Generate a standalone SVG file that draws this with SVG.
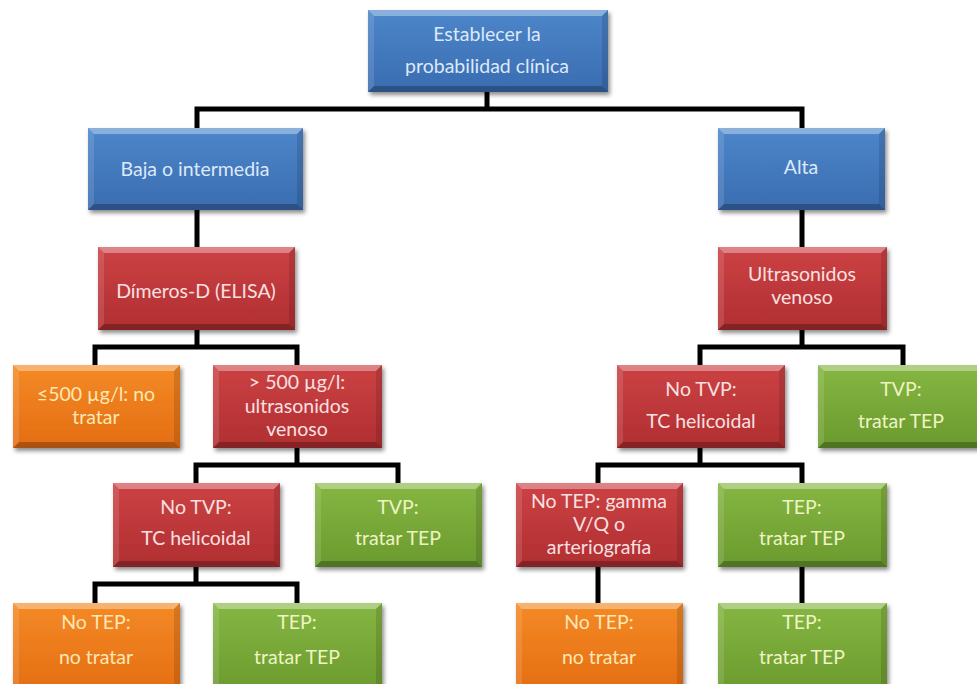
<svg xmlns="http://www.w3.org/2000/svg" width="977" height="684" viewBox="0 0 977 684">
<defs>
<filter id="sh" x="-10%" y="-10%" width="130%" height="140%"><feDropShadow dx="2" dy="3" stdDeviation="2" flood-color="#000" flood-opacity="0.45"/></filter>
<linearGradient id="gB" x1="0" y1="0" x2="0" y2="1"><stop offset="0" stop-color="#4d86ca"/><stop offset="1" stop-color="#3a6cb0"/></linearGradient>
<linearGradient id="gR" x1="0" y1="0" x2="0" y2="1"><stop offset="0" stop-color="#cc4244"/><stop offset="1" stop-color="#b02e31"/></linearGradient>
<linearGradient id="gO" x1="0" y1="0" x2="0" y2="1"><stop offset="0" stop-color="#f48a26"/><stop offset="1" stop-color="#e46d12"/></linearGradient>
<linearGradient id="gG" x1="0" y1="0" x2="0" y2="1"><stop offset="0" stop-color="#86b642"/><stop offset="1" stop-color="#6a9a2e"/></linearGradient>
</defs>
<style>
.t{font-family:Lato,"Open Sans","Liberation Sans",sans-serif;font-size:19.5px;text-anchor:middle}
.tb{fill:#dce9f8}.tr{fill:#f9e0e0}.to{fill:#fde7b4}.tg{fill:#eef4c4}
.bt{fill:rgba(255,255,255,0.35)}.bb{fill:rgba(0,0,0,0.25)}.bl{fill:rgba(255,255,255,0.12)}.br{fill:rgba(0,0,0,0.12)}
.c{fill:none;stroke:#000;stroke-width:5;stroke-linejoin:miter;stroke-linecap:square}
</style>
<rect width="977" height="684" fill="#fff"/>
<g id="connectors">
<path class="c" d="M487,92V109M197,128V109H802V128"/>
<path class="c" d="M197,210V247M802,210V247"/>
<path class="c" d="M197,330V347M95,365V347H297V365"/>
<path class="c" d="M297,448V465M196,483V465H398V483"/>
<path class="c" d="M196,567V584M95,603V584H297V603"/>
<path class="c" d="M802,330V347M700,365V347H903V365"/>
<path class="c" d="M700,448V465M598,483V465H802V483"/>
<path class="c" d="M598,567V603M802,567V603"/>
</g>
<g id="n1" transform="translate(368,10)"><rect width="240" height="82" fill="url(#gB)" filter="url(#sh)"/><polygon class="bt" points="0,0 240,0 234,6 6,6"/><polygon class="bb" points="0,82 240,82 234,76 6,76"/><polygon class="bl" points="0,0 6,6 6,76 0,82"/><polygon class="br" points="240,0 234,6 234,76 240,82"/><text class="t tb" x="119" y="31">Establecer la</text><text class="t tb" x="119" y="63">probabilidad clínica</text></g>
<g id="n2" transform="translate(88,128)"><rect width="215" height="82" fill="url(#gB)" filter="url(#sh)"/><polygon class="bt" points="0,0 215,0 209,6 6,6"/><polygon class="bb" points="0,82 215,82 209,76 6,76"/><polygon class="bl" points="0,0 6,6 6,76 0,82"/><polygon class="br" points="215,0 209,6 209,76 215,82"/><text class="t tb" x="107" y="48">Baja o intermedia</text></g>
<g id="n3" transform="translate(718,128)"><rect width="167" height="82" fill="url(#gB)" filter="url(#sh)"/><polygon class="bt" points="0,0 167,0 161,6 6,6"/><polygon class="bb" points="0,82 167,82 161,76 6,76"/><polygon class="bl" points="0,0 6,6 6,76 0,82"/><polygon class="br" points="167,0 161,6 161,76 167,82"/><text class="t tb" x="83" y="46">Alta</text></g>
<g id="n4" transform="translate(98,247)"><rect width="197" height="83" fill="url(#gR)" filter="url(#sh)"/><polygon class="bt" points="0,0 197,0 191,6 6,6"/><polygon class="bb" points="0,83 197,83 191,77 6,77"/><polygon class="bl" points="0,0 6,6 6,77 0,83"/><polygon class="br" points="197,0 191,6 191,77 197,83"/><text class="t tr" x="98" y="51">Dímeros-D (ELISA)</text></g>
<g id="n5" transform="translate(718,247)"><rect width="169" height="83" fill="url(#gR)" filter="url(#sh)"/><polygon class="bt" points="0,0 169,0 163,6 6,6"/><polygon class="bb" points="0,83 169,83 163,77 6,77"/><polygon class="bl" points="0,0 6,6 6,77 0,83"/><polygon class="br" points="169,0 163,6 163,77 169,83"/><text class="t tr" x="84" y="34">Ultrasonidos</text><text class="t tr" x="84" y="57">venoso</text></g>
<g id="n6" transform="translate(13,365)"><rect width="167" height="83" fill="url(#gO)" filter="url(#sh)"/><polygon class="bt" points="0,0 167,0 161,6 6,6"/><polygon class="bb" points="0,83 167,83 161,77 6,77"/><polygon class="bl" points="0,0 6,6 6,77 0,83"/><polygon class="br" points="167,0 161,6 161,77 167,83"/><text class="t to" x="83" y="36">≤500 µg/l: no</text><text class="t to" x="83" y="59">tratar</text></g>
<g id="n7" transform="translate(213,365)"><rect width="169" height="83" fill="url(#gR)" filter="url(#sh)"/><polygon class="bt" points="0,0 169,0 163,6 6,6"/><polygon class="bb" points="0,83 169,83 163,77 6,77"/><polygon class="bl" points="0,0 6,6 6,77 0,83"/><polygon class="br" points="169,0 163,6 163,77 169,83"/><text class="t tr" x="84" y="24">&gt; 500 µg/l:</text><text class="t tr" x="84" y="48">ultrasonidos</text><text class="t tr" x="84" y="71">venoso</text></g>
<g id="n8" transform="translate(617,365)"><rect width="168" height="83" fill="url(#gR)" filter="url(#sh)"/><polygon class="bt" points="0,0 168,0 162,6 6,6"/><polygon class="bb" points="0,83 168,83 162,77 6,77"/><polygon class="bl" points="0,0 6,6 6,77 0,83"/><polygon class="br" points="168,0 162,6 162,77 168,83"/><text class="t tr" x="84" y="31">No TVP:</text><text class="t tr" x="84" y="63">TC helicoidal</text></g>
<g id="n9" transform="translate(818,365)"><rect width="168" height="83" fill="url(#gG)" filter="url(#sh)"/><polygon class="bt" points="0,0 168,0 162,6 6,6"/><polygon class="bb" points="0,83 168,83 162,77 6,77"/><polygon class="bl" points="0,0 6,6 6,77 0,83"/><polygon class="br" points="168,0 162,6 162,77 168,83"/><text class="t tg" x="83" y="31">TVP:</text><text class="t tg" x="83" y="63">tratar TEP</text></g>
<g id="n10" transform="translate(113,483)"><rect width="167" height="84" fill="url(#gR)" filter="url(#sh)"/><polygon class="bt" points="0,0 167,0 161,6 6,6"/><polygon class="bb" points="0,84 167,84 161,78 6,78"/><polygon class="bl" points="0,0 6,6 6,78 0,84"/><polygon class="br" points="167,0 161,6 161,78 167,84"/><text class="t tr" x="83" y="31">No TVP:</text><text class="t tr" x="83" y="62">TC helicoidal</text></g>
<g id="n11" transform="translate(315,483)"><rect width="167" height="84" fill="url(#gG)" filter="url(#sh)"/><polygon class="bt" points="0,0 167,0 161,6 6,6"/><polygon class="bb" points="0,84 167,84 161,78 6,78"/><polygon class="bl" points="0,0 6,6 6,78 0,84"/><polygon class="br" points="167,0 161,6 161,78 167,84"/><text class="t tg" x="83" y="31">TVP:</text><text class="t tg" x="83" y="62">tratar TEP</text></g>
<g id="n12" transform="translate(516,483)"><rect width="167" height="84" fill="url(#gR)" filter="url(#sh)"/><polygon class="bt" points="0,0 167,0 161,6 6,6"/><polygon class="bb" points="0,84 167,84 161,78 6,78"/><polygon class="bl" points="0,0 6,6 6,78 0,84"/><polygon class="br" points="167,0 161,6 161,78 167,84"/><text class="t tr" x="83" y="25">No TEP: gamma</text><text class="t tr" x="83" y="48">V/Q o</text><text class="t tr" x="83" y="71">arteriografía</text></g>
<g id="n13" transform="translate(718,483)"><rect width="169" height="84" fill="url(#gG)" filter="url(#sh)"/><polygon class="bt" points="0,0 169,0 163,6 6,6"/><polygon class="bb" points="0,84 169,84 163,78 6,78"/><polygon class="bl" points="0,0 6,6 6,78 0,84"/><polygon class="br" points="169,0 163,6 163,78 169,84"/><text class="t tg" x="84" y="31">TEP:</text><text class="t tg" x="84" y="62">tratar TEP</text></g>
<g id="n14" transform="translate(13,603)"><rect width="167" height="90" fill="url(#gO)" filter="url(#sh)"/><polygon class="bt" points="0,0 167,0 161,6 6,6"/><polygon class="bl" points="0,0 6,6 6,90 0,90"/><polygon class="br" points="167,0 161,6 161,90 167,90"/><text class="t to" x="83" y="26">No TEP:</text><text class="t to" x="83" y="61">no tratar</text></g>
<g id="n15" transform="translate(213,603)"><rect width="169" height="90" fill="url(#gG)" filter="url(#sh)"/><polygon class="bt" points="0,0 169,0 163,6 6,6"/><polygon class="bl" points="0,0 6,6 6,90 0,90"/><polygon class="br" points="169,0 163,6 163,90 169,90"/><text class="t tg" x="84" y="26">TEP:</text><text class="t tg" x="84" y="61">tratar TEP</text></g>
<g id="n16" transform="translate(516,603)"><rect width="167" height="90" fill="url(#gO)" filter="url(#sh)"/><polygon class="bt" points="0,0 167,0 161,6 6,6"/><polygon class="bl" points="0,0 6,6 6,90 0,90"/><polygon class="br" points="167,0 161,6 161,90 167,90"/><text class="t to" x="83" y="26">No TEP:</text><text class="t to" x="83" y="61">no tratar</text></g>
<g id="n17" transform="translate(718,603)"><rect width="169" height="90" fill="url(#gG)" filter="url(#sh)"/><polygon class="bt" points="0,0 169,0 163,6 6,6"/><polygon class="bl" points="0,0 6,6 6,90 0,90"/><polygon class="br" points="169,0 163,6 163,90 169,90"/><text class="t tg" x="84" y="26">TEP:</text><text class="t tg" x="84" y="61">tratar TEP</text></g>
</svg>
